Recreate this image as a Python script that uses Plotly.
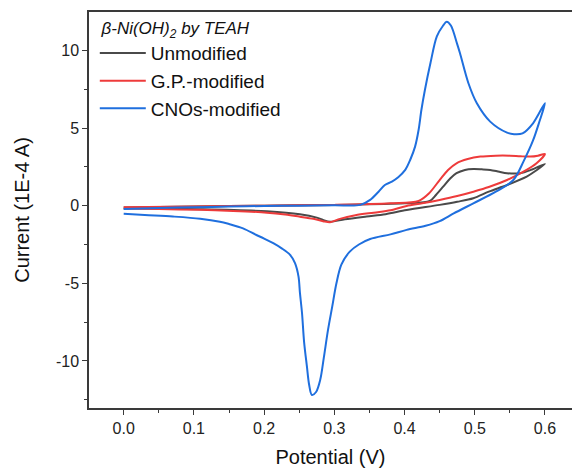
import plotly.graph_objects as go

# Unmodified (gray)
gray_v = [0.0, 0.1, 0.2, 0.3, 0.4, 0.436, 0.445, 0.455, 0.465, 0.474, 0.486, 0.498, 0.51, 0.522, 0.535, 0.546, 0.565, 0.58, 0.6,
          0.587, 0.574, 0.546, 0.52, 0.498, 0.475, 0.45, 0.403, 0.373, 0.346, 0.315, 0.294, 0.284, 0.275, 0.251, 0.204, 0.108, 0.0]
gray_i = [-0.12, -0.05, 0.0, 0.05, 0.15, 0.3, 0.7, 1.22, 1.75, 2.09, 2.3, 2.36, 2.34, 2.3, 2.18, 2.09, 2.09, 2.3, 2.69,
          2.25, 1.87, 1.33, 0.9, 0.48, 0.25, 0.05, -0.28, -0.55, -0.7, -0.88, -1.03, -0.92, -0.77, -0.55, -0.36, -0.23, -0.17]

# G.P.-modified (red)
red_v = [0.0, 0.1, 0.2, 0.3, 0.38, 0.42, 0.435, 0.45, 0.462, 0.474, 0.49, 0.508, 0.53, 0.55, 0.565, 0.579, 0.59, 0.6,
         0.588, 0.57, 0.546, 0.52, 0.498, 0.475, 0.45, 0.425, 0.403, 0.38, 0.356, 0.33, 0.308, 0.294, 0.284, 0.27, 0.251, 0.23, 0.204, 0.156, 0.108, 0.05, 0.0]
red_i = [-0.1, -0.05, 0.0, 0.05, 0.15, 0.3, 0.8, 1.65, 2.3, 2.73, 3.0, 3.16, 3.22, 3.22, 3.18, 3.16, 3.22, 3.33,
         2.73, 2.2, 1.65, 1.2, 0.9, 0.62, 0.37, 0.15, -0.02, -0.3, -0.45, -0.62, -0.85, -1.07, -1.0, -0.85, -0.71, -0.57, -0.45, -0.34, -0.27, -0.22, -0.19]

# CNOs-modified (blue)
blue_v = [0.0, 0.05, 0.1, 0.15, 0.2, 0.25, 0.3, 0.337, 0.351, 0.363, 0.372, 0.382, 0.391, 0.401, 0.408, 0.415, 0.42, 0.424, 0.429, 0.437, 0.446, 0.455, 0.46,
          0.466, 0.475, 0.479, 0.491, 0.503, 0.522, 0.546, 0.556, 0.568, 0.583, 0.6,
          0.592, 0.583, 0.57, 0.555, 0.53, 0.498, 0.47, 0.45, 0.43, 0.403, 0.38, 0.351, 0.335, 0.322, 0.31, 0.303, 0.297, 0.291, 0.285,
          0.28, 0.274, 0.268, 0.264, 0.261, 0.257, 0.254, 0.251, 0.249, 0.244, 0.237, 0.225, 0.213, 0.2, 0.189, 0.17, 0.15, 0.137,
          0.109, 0.07, 0.03, 0.0]
blue_i = [-0.22, -0.15, -0.1, -0.06, -0.02, 0.0, 0.03, 0.05, 0.37, 0.9, 1.33, 1.55, 1.83, 2.3, 2.94, 3.8, 4.87, 6.16, 7.45, 9.2, 10.9, 11.6, 11.85,
          11.6, 10.4, 9.81, 7.88, 6.59, 5.41, 4.7, 4.6, 4.65, 5.3, 6.6,
          5.4, 4.2, 2.9, 1.65, 0.9, 0.15, -0.5, -1.0, -1.3, -1.56, -1.85, -2.15, -2.5, -2.96, -3.8, -5.0, -6.5, -8.0, -9.8,
          -11.2, -12.0, -12.19, -11.5, -10.37, -8.8, -6.93, -5.6, -4.57, -3.7, -3.17, -2.75, -2.42, -2.12, -1.89, -1.46, -1.18, -1.03,
          -0.84, -0.7, -0.6, -0.52]

names = ["Unmodified", "G.P.-modified", "CNOs-modified"]
colors = ["#4a4a4a", "#ee3b3b", "#1f6fde"]
x_ticks = [0.0, 0.1, 0.2, 0.3, 0.4, 0.5, 0.6]
x_labels = ["0.0", "0.1", "0.2", "0.3", "0.4", "0.5", "0.6"]
y_ticks = [-10, -5, 0, 5, 10]
y_labels = ["-10", "-5", "0", "5", "10"]

fig = go.Figure()
for v, i, n, c in zip([gray_v, red_v, blue_v], [gray_i, red_i, blue_i], names, colors):
    fig.add_trace(go.Scatter(x=v, y=i, mode="lines", name=n,
                             line=dict(color=c, width=2, shape="spline", smoothing=0.9)))

font_family = "Arial, Liberation Sans, sans-serif"
fig.update_layout(
    width=572, height=469,
    margin=dict(l=89, r=0, t=12, b=61),
    plot_bgcolor="white", paper_bgcolor="white",
    font=dict(family=font_family, color="#222"),
    showlegend=True,
    legend=dict(
        x=0.012, y=1.0, xanchor="left", yanchor="top",
        bgcolor="rgba(0,0,0,0)",
        font=dict(size=19, color="#111"),
        title=dict(text="&nbsp;<i>β-Ni(OH)<sub>2</sub> by TEAH</i>", font=dict(size=17, color="#111")),
        itemwidth=46, tracegroupgap=0,
    ),
    xaxis=dict(
        range=[-0.0494, 0.6385], showgrid=False, zeroline=False,
        showline=True, linecolor="#3a3a3a", linewidth=1.5, mirror=True,
        ticks="outside", ticklen=5, tickcolor="#3a3a3a", tickwidth=1,
        tickmode="array", tickvals=x_ticks, ticktext=x_labels,
        minor=dict(ticks="outside", ticklen=3, tickcolor="#3a3a3a", dtick=0.05, tick0=-0.05, showgrid=False),
        tickfont=dict(size=16, color="#222"),
        title=dict(text="Potential (V)", font=dict(size=20, color="#111"), standoff=14),
    ),
    yaxis=dict(
        range=[-13.03, 12.47], showgrid=False, zeroline=False,
        showline=True, linecolor="#3a3a3a", linewidth=1.5, mirror=False,
        ticks="outside", ticklen=5, tickcolor="#3a3a3a", tickwidth=1,
        tickmode="array", tickvals=y_ticks, ticktext=y_labels,
        minor=dict(ticks="outside", ticklen=3, tickcolor="#3a3a3a", dtick=2.5, tick0=0, showgrid=False),
        tickfont=dict(size=16, color="#222"),
        title=dict(text="Current (1E-4 A)", font=dict(size=20, color="#111"), standoff=21),
    ),
)

fig.write_html("out.html")
